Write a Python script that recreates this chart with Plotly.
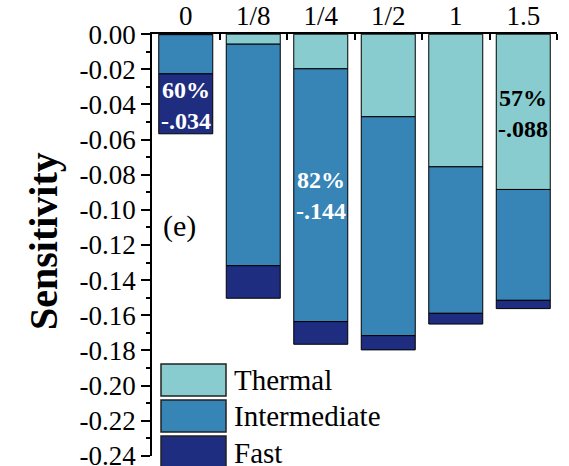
import plotly.graph_objects as go

categories = ["0", "1/8", "1/4", "1/2", "1", "1.5"]
thermal = [-0.0003, -0.0057, -0.0197, -0.0470, -0.0755, -0.0884]
intermediate = [-0.0223, -0.1261, -0.1439, -0.1246, -0.0834, -0.0631]
fast = [-0.0341, -0.0185, -0.0129, -0.0081, -0.0061, -0.0047]

series_names = ["Thermal", "Intermediate", "Fast"]
series_colors = ["#88CCD0", "#3784B6", "#1F2D80"]

ytick_vals = [0.0, -0.02, -0.04, -0.06, -0.08, -0.10, -0.12, -0.14, -0.16, -0.18, -0.20, -0.22, -0.24]
ytick_text = ["0.00", "-0.02", "-0.04", "-0.06", "-0.08", "-0.10", "-0.12", "-0.14", "-0.16", "-0.18", "-0.20", "-0.22", "-0.24"]
yminor_vals = [-0.01, -0.03, -0.05, -0.07, -0.09, -0.11, -0.13, -0.15, -0.17, -0.19, -0.21, -0.23]

labels = [
    (0, -0.0404, "60%<br>-.034", "white"),
    (2, -0.0921, "82%<br>-.144", "white"),
    (5, -0.0449, "57%<br>-.088", "black"),
]

FONT = "Liberation Serif"

# pixel geometry of the plot area
L, R, T, B = 152, 557, 34, 456
W, H = 569, 466

fig = go.Figure()
for name, vals, col in zip(series_names, [thermal, intermediate, fast], series_colors):
    fig.add_trace(go.Bar(
        x=list(range(len(categories))), y=vals, name=name,
        marker=dict(color=col, line=dict(color="black", width=1)),
        showlegend=False,
    ))

for xi, yi, txt, c in labels:
    fig.add_annotation(x=xi, y=yi, text="<b>" + txt + "</b>", showarrow=False,
                       font=dict(family=FONT, size=24, color=c), align="center")

fig.add_annotation(x=-0.1, y=-0.1094, text="(e)", showarrow=False,
                   font=dict(family=FONT, size=30, color="black"))

def py(p):
    return (B - p) / (B - T)
def px(p):
    return (p - L) / (R - L)

# y-axis title
fig.add_annotation(xref="paper", yref="paper", x=px(43), y=py(241), textangle=-90,
                   text="<b>Sensitivity</b>", showarrow=False, xanchor="center", yanchor="middle",
                   font=dict(family=FONT, size=40, color="black"))

# manual legend with large swatches (paper coords)
legend_rows = [(364, 396), (400, 432), (436, 470)]
for (t, b), name, col in zip(legend_rows, series_names, series_colors):
    fig.add_shape(type="rect", xref="paper", yref="paper",
                  x0=px(161), x1=px(226), y0=py(b), y1=py(t),
                  fillcolor=col, line=dict(color="#222", width=1.5))
    fig.add_annotation(xref="paper", yref="paper", x=px(232), y=py((t + b) / 2),
                       xanchor="left", yanchor="middle", text=name, showarrow=False,
                       font=dict(family=FONT, size=29, color="black"))

fig.update_layout(
    barmode="relative",
    bargap=0.2,
    width=W, height=H,
    margin=dict(l=L, r=W - R, t=T, b=H - B, autoexpand=False),
    plot_bgcolor="white", paper_bgcolor="white",
    font=dict(family=FONT, size=27, color="black"),
    xaxis=dict(
        tickmode="array", tickvals=list(range(len(categories))), ticktext=categories,
        side="top", showline=True, linecolor="black", linewidth=1.5, automargin=False,
        ticks="", showgrid=False, zeroline=False,
        minor=dict(tickmode="array", tickvals=[0.5, 1.5, 2.5, 3.5, 4.5, 5.5],
                   ticks="inside", ticklen=6, tickcolor="black", tickwidth=1.5),
        tickfont=dict(family=FONT, size=27), ticklabeloverflow="allow",
        ticklabelstandoff=-4,
        range=[-0.5, 5.5],
    ),
    yaxis=dict(
        range=[-0.2401, 0.0001], showline=True, linecolor="black", linewidth=1.5, automargin=False,
        tickmode="array", tickvals=ytick_vals, ticktext=ytick_text,
        ticks="outside", ticklen=9, tickwidth=1.5, tickcolor="black",
        minor=dict(tickmode="array", tickvals=yminor_vals, ticks="outside", ticklen=4, tickcolor="black", tickwidth=1.5),
        tickfont=dict(family=FONT, size=27), ticklabeloverflow="allow",
        showgrid=False, zeroline=False,
    ),
)

fig.write_html("out.html")
